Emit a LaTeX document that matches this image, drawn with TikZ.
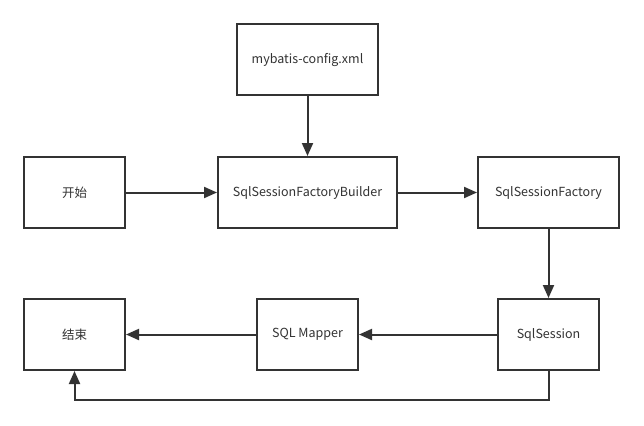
\documentclass[tikz,border=0pt]{standalone}
\usepackage{fontspec}
\setmainfont{Noto Sans CJK SC}
\usetikzlibrary{arrows.meta}
\definecolor{ink}{HTML}{333333}
\begin{document}
\begin{tikzpicture}[x=1pt,y=-1pt,
  box/.style={draw=ink,line width=2pt,fill=white,minimum width=#1,minimum height=71pt,inner sep=0pt,text=ink,font=\fontsize{12.5}{14}\selectfont},
  box/.default=101pt,
  link/.style={draw=ink,line width=2pt,-{Triangle[length=13pt,width=11pt]}}]
\useasboundingbox[fill=white] (0,0) rectangle (644,425);
\node[box=141pt] (cfg) at (307.5,60) {mybatis-config.xml};
\node[box] (start) at (74.5,192.5) {开始};
\node[box=179pt] (builder) at (307.5,192.5) {SqlSessionFactoryBuilder};
\node[box=141pt] (factory) at (548.5,192.5) {SqlSessionFactory};
\node[box] (end) at (74.5,334.5) {结束};
\node[box] (mapper) at (307.5,334.5) {SQL Mapper};
\node[box] (session) at (548.5,334.5) {SqlSession};
\coordinate (c1) at (548.5,400);
\coordinate (c2) at (74.5,400);
\draw[link] (cfg) -- (builder);
\draw[link] (start) -- (builder);
\draw[link] (builder) -- (factory);
\draw[link] (factory) -- (session);
\draw[link] (session) -- (mapper);
\draw[link] (mapper) -- (end);
\draw[link] (session.south) -- (c1) -- (c2) -- (end.south);
\end{tikzpicture}
\end{document}
